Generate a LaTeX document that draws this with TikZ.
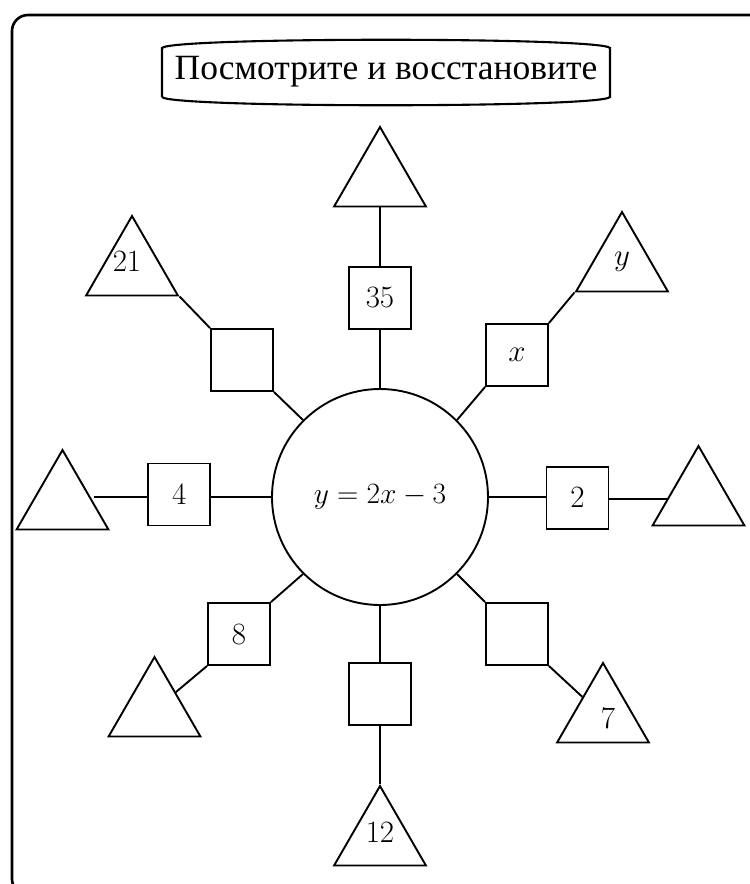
\RequirePackage{fix-cm}
\documentclass[tikz,border=0pt]{standalone}
\usepackage{fontspec}
\newfontfamily\titlefont{Liberation Serif}
\usetikzlibrary{shapes.geometric,calc}
\tikzset{
  shp/.style={draw=black, line width=1.9pt},
  box/.style={shp, rectangle, minimum size=62pt, inner sep=0pt, font=\fontsize{31}{36}\selectfont},
  tri/.style={shp, regular polygon, regular polygon sides=3, minimum size=106pt, inner sep=0pt},
  txt/.style={inner sep=0pt, font=\fontsize{31}{36}\selectfont},
  conn/.style={line width=1.9pt, black},
}
\begin{document}
\begin{tikzpicture}[x=1pt, y=-1pt]
\useasboundingbox (0,0) rectangle (750,884);
% outer frame
\begin{scope}
  \clip (0,0) rectangle (750,884);
  \draw[line width=2.6pt, rounded corners=16pt] (12,15) rectangle (770,895);
\end{scope}
% title
\draw[line width=2.1pt] (162,97) -- (162,48) .. controls (170,37) and (602,37) .. (610,48)
   -- (610,97) .. controls (602,108) and (170,108) .. (162,97);
\node[inner sep=0pt, font=\titlefont\fontsize{35.5}{40}\selectfont] (title) at (386,72) {Посмотрите и восстановите};
% centre
\node[shp, circle, minimum size=216pt, inner sep=0pt, font=\fontsize{29.5}{34}\selectfont] (c) at (380,497) {$y=2x-3$};
% boxes
\node[box] (b35) at (380,298) {$35$};
\node[box] (bx) at (517,355) {$x$};
\node[box] (b2) at (577.5,498) {$2$};
\node[box] (blr) at (517,634) {};
\node[box] (bb) at (380,694) {};
\node[box] (b8) at (239,634) {$8$};
\node[box] (b4) at (179.3,494.5) {$4$};
\node[box] (bul) at (242,360) {};
% triangles
\node[tri] (t35) at (380,180) {};
\node[tri] (ty) at (622,265) {};
\node[tri] (t2) at (698.5,499) {};
\node[tri] (t7) at (603,716) {};
\node[tri] (t12) at (380,839) {};
\node[tri] (t8) at (154.5,710) {};
\node[tri] (t4) at (62.5,503) {};
\node[tri] (t21) at (132,269) {};
% triangle texts
\node[txt] (l21) at (127,262) {$21$};
\node[txt] (ly) at (622,262) {$y$};
\node[txt] (l7) at (608,718) {$7$};
\node[txt] (l12) at (380,832) {$12$};
% connectors
\draw[conn] (c.north) -- (b35.south);
\draw[conn] (b35.north) -- (t35.south);
\draw[conn] (c.45) -- (bx.south west);
\draw[conn] (bx.north east) -- (ty.corner 2);
\draw[conn] (c.east) -- (c.east -| b2.west);
\draw[conn] (b2.east |- t2.center) -- (t2);
\draw[conn] (c.315) -- (blr.north west);
\draw[conn] (blr.south east) -- (t7);
\draw[conn] (c.south) -- (bb.north);
\draw[conn] (bb.south) -- (t12.corner 1);
\draw[conn] (c.225) -- (b8.north east);
\draw[conn] (b8.south west) -- (t8);
\draw[conn] (c.west) -- (c.west -| b4.east);
\draw[conn] (b4.west |- c.west) -- (t4.east |- c.west);
\draw[conn] (c.135) -- (bul.south east);
\draw[conn] (bul.north west) -- (t21.corner 3);
\end{tikzpicture}
\end{document}
